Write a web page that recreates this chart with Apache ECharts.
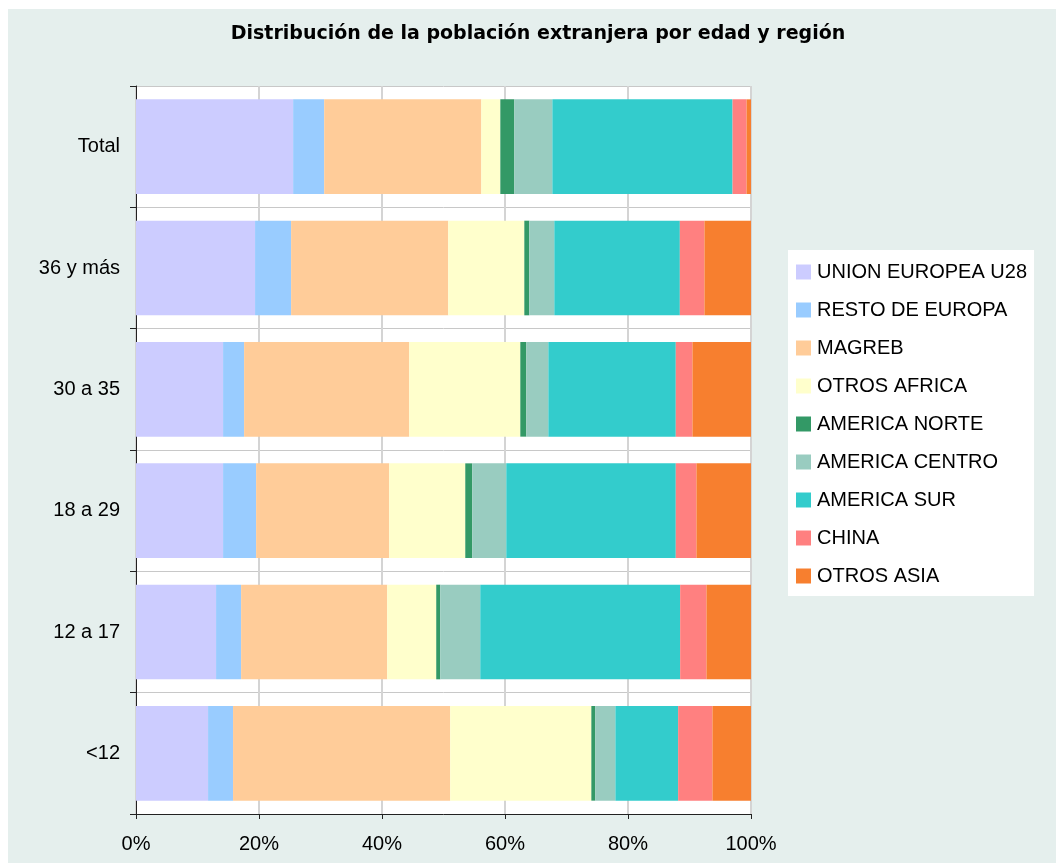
<!DOCTYPE html>
<html>
<head>
<meta charset="utf-8">
<script src="https://cdn.jsdelivr.net/npm/echarts@6/dist/echarts.min.js"></script>
<style>
html,body{margin:0;padding:0;background:#fff;}
#chart{width:1056px;height:863px;}
</style>
</head>
<body>
<div id="chart"></div>
<script>
const categories = ['Total', '36 y más', '30 a 35', '18 a 29', '12 a 17', '<12'];
const xTicks = [0, 20, 40, 60, 80, 100];
const regions = ['UNION EUROPEA U28', 'RESTO DE EUROPA', 'MAGREB', 'OTROS AFRICA', 'AMERICA NORTE', 'AMERICA CENTRO', 'AMERICA SUR', 'CHINA', 'OTROS ASIA'];
const unionEuropea = [25.55, 19.36, 14.16, 14.16, 13.02, 11.72];
const restoEuropa  = [5.05, 5.86, 3.42, 5.37, 4.07, 4.06];
const magreb       = [25.55, 25.55, 26.85, 21.64, 23.76, 35.32];
const otrosAfrica  = [3.09, 12.37, 18.06, 12.37, 7.97, 22.94];
const americaNorte = [2.28, 0.81, 0.98, 1.14, 0.65, 0.65];
const americaCentro= [6.18, 4.07, 3.58, 5.53, 6.51, 3.26];
const americaSur   = [29.30, 20.41, 20.72, 27.56, 32.50, 10.20];
const china        = [2.28, 4.00, 2.71, 3.36, 4.28, 5.58];
const otrosAsia    = [0.73, 7.57, 9.52, 8.87, 7.24, 6.27];

const seriesValues = [unionEuropea, restoEuropa, magreb, otrosAfrica, americaNorte, americaCentro, americaSur, china, otrosAsia];
const colors = ['#CCCCFF', '#99CCFF', '#FFCC99', '#FFFFCC', '#339966', '#99CCC0', '#33CCCC', '#FF8080', '#F77F2F'];

const chart = echarts.init(document.getElementById('chart'), null, {renderer: 'canvas'});
const FONT = '"Liberation Sans", Arial, sans-serif';

chart.setOption({
  animation: false,
  color: colors,
  graphic: [{
    type: 'rect', z: -100, silent: true,
    shape: {x: 8, y: 9, width: 1048, height: 854},
    style: {fill: '#E5EFED'}
  }],
  title: {
    text: 'Distribución de la población extranjera por edad y región',
    left: 533, top: 20, textAlign: 'center',
    textStyle: {fontFamily: '"DejaVu Sans", sans-serif', fontWeight: 'bold', fontSize: 19, color: '#000'}
  },
  legend: {
    orient: 'vertical',
    left: 788, top: 250,
    padding: [12, 7, 10, 8],
    itemWidth: 15, itemHeight: 15, itemGap: 18,
    backgroundColor: '#fff',
    icon: 'rect',
    data: regions,
    textStyle: {fontFamily: FONT, fontSize: 20, color: '#000', padding: [0, 0, 0, 1]}
  },
  grid: {
    left: 136, right: 305, top: 86, bottom: 49,
    show: true, backgroundColor: '#fff', borderWidth: 0
  },
  xAxis: {
    type: 'value', min: 0, max: 100, interval: 20,
    axisLine: {show: true, lineStyle: {color: '#222', width: 1}},
    axisTick: {show: true, length: 5, lineStyle: {color: '#222'}},
    axisLabel: {formatter: v => v + '%', margin: 20, fontFamily: FONT, fontSize: 20, color: '#000'},
    splitLine: {show: true, lineStyle: {color: '#D4D4D4', width: 2}}
  },
  yAxis: {
    type: 'category', data: categories, inverse: true,
    axisLine: {show: true, lineStyle: {color: '#222', width: 1}},
    axisTick: {show: true, length: 6, lineStyle: {color: '#222'}},
    axisLabel: {margin: 16, fontFamily: FONT, fontSize: 20, color: '#000'},
    splitLine: {show: true, lineStyle: {color: '#C8C8C8', width: 1}}
  },
  series: regions.map((name, i) => ({
    name: name,
    type: 'bar',
    stack: 'total',
    barCategoryGap: '22%',
    data: seriesValues[i]
  }))
});
</script>
</body>
</html>
